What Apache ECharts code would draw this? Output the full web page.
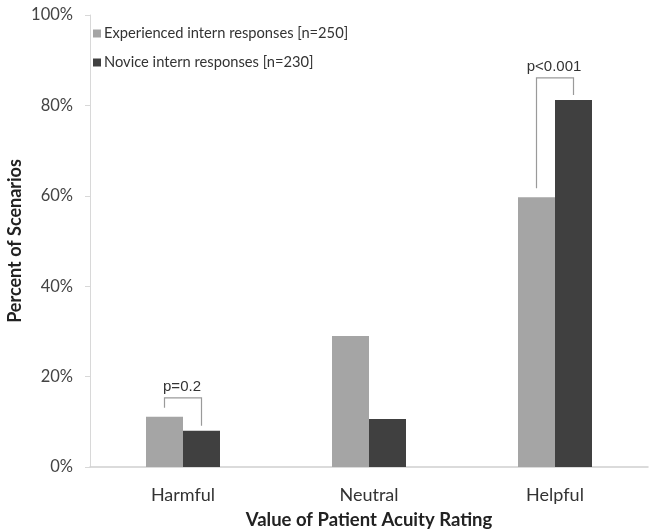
<!DOCTYPE html>
<html style="height: 100%">
<head>
    <meta charset="utf-8">
</head>
<body style="height: 100%; margin: 0; background: #fff">
<div id="chart" style="width: 654px; height: 530px"></div>
<script src="https://cdn.jsdelivr.net/npm/echarts@6/dist/echarts.min.js"></script>
<script type="text/javascript">
    // data
    var categories = ['Harmful', 'Neutral', 'Helpful'];
    var experienced = [11.1, 29.0, 59.7];
    var novice = [8.0, 10.6, 81.2];
    var seriesNames = ['Experienced intern responses [n=250]', 'Novice intern responses [n=230]'];
    // significance brackets: [category index, bracket top value, label]
    var brackets = [
        [0, 15.3, 'p=0.2'],
        [2, 86.1, 'p<0.001']
    ];

    var chart = echarts.init(document.getElementById('chart'));
    var FONT = 'Lato';
    var BAR_W = 37;

    var option = {
        animation: false,
        textStyle: {fontFamily: FONT},
        grid: {left: 90, right: 6, top: 15, bottom: 63, outerBoundsMode: 'none', containLabel: false},
        legend: {
            orient: 'vertical',
            left: 88,
            top: 21,
            itemWidth: 8,
            itemHeight: 8,
            itemGap: 14,
            icon: 'rect',
            textStyle: {fontSize: 14.7, color: '#333', fontFamily: FONT, padding: [0, 0, 0, -2]},
            data: seriesNames
        },
        xAxis: {
            type: 'category',
            data: categories,
            axisLine: {lineStyle: {color: '#d0d0d0', width: 1.5}},
            axisTick: {show: false},
            axisLabel: {fontSize: 18, color: '#333', margin: 19},
            name: 'Value of Patient Acuity Rating',
            nameLocation: 'middle',
            nameGap: 44,
            nameMoveOverlap: false,
            nameTextStyle: {fontSize: 18.5, fontWeight: 'bold', color: '#222'}
        },
        yAxis: {
            type: 'value',
            min: 0,
            max: 100,
            interval: 20,
            axisLine: {show: true, lineStyle: {color: '#d8d8d8'}},
            axisTick: {show: true, length: 5, lineStyle: {color: '#d8d8d8'}},
            splitLine: {show: false},
            axisLabel: {fontSize: 16.5, color: '#444', margin: 17, formatter: '{value}%'},
            name: 'Percent of Scenarios',
            nameLocation: 'middle',
            nameGap: 66,
            nameMoveOverlap: false,
            nameTextStyle: {fontSize: 18, fontWeight: 'bold', color: '#222'}
        },
        series: [
            {
                name: seriesNames[0],
                type: 'bar',
                data: experienced,
                barWidth: BAR_W,
                barGap: '0%',
                itemStyle: {color: '#a5a5a5'}
            },
            {
                name: seriesNames[1],
                type: 'bar',
                data: novice,
                barWidth: BAR_W,
                itemStyle: {color: '#404040'}
            },
            {
                type: 'custom',
                silent: true,
                data: brackets,
                encode: {x: 0, y: 1},
                renderItem: function (params, api) {
                    var idx = api.value(0);
                    var top = api.coord([idx, api.value(1)]);
                    var lx = top[0] - BAR_W / 2;
                    var rx = top[0] + BAR_W / 2;
                    var lb = api.coord([idx, experienced[idx]])[1] - 9;
                    var rb = api.coord([idx, novice[idx]])[1] - 5;
                    return {
                        type: 'group',
                        children: [
                            {
                                type: 'polyline',
                                shape: {points: [[lx, lb], [lx, top[1]], [rx, top[1]], [rx, rb]]},
                                style: {stroke: '#9a9a9a', lineWidth: 1.2, fill: null}
                            },
                            {
                                type: 'text',
                                style: {
                                    text: brackets[params.dataIndex][2],
                                    x: top[0] - 1,
                                    y: top[1] - 3,
                                    align: 'center',
                                    verticalAlign: 'bottom',
                                    fontSize: 15,
                                    fontFamily: 'Liberation Sans',
                                    fill: '#333'
                                }
                            }
                        ]
                    };
                }
            }
        ]
    };
    chart.setOption(option);
</script>
</body>
</html>
